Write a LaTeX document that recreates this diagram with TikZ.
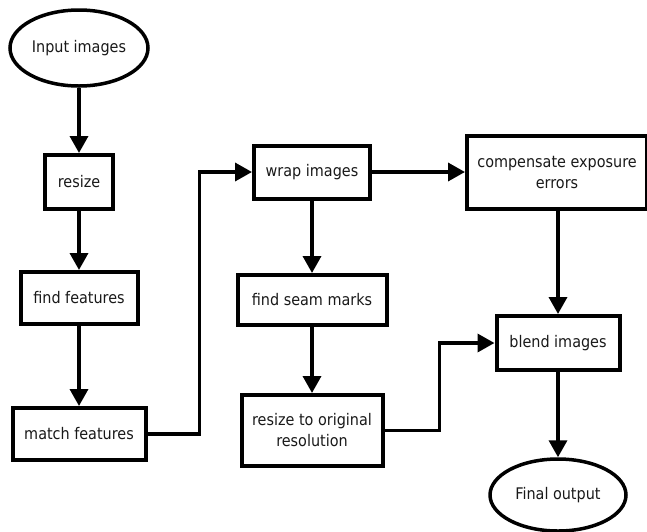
\documentclass[tikz,border=0pt]{standalone}
\usepackage{fontspec}
\setmainfont{DejaVu Sans Condensed}
\usetikzlibrary{shapes.geometric,arrows.meta}
\begin{document}
\begin{tikzpicture}[x=1pt,y=-1pt,
  every node/.style={font=\fontsize{16}{19}\selectfont, text=black!90, align=center, inner sep=0pt},
  stepbox/.style={draw, rectangle, line width=4pt},
  terminal/.style={draw, ellipse, line width=3.5pt},
  flow/.style={line width=3.5pt, -{Triangle[length=17pt,width=18pt]}}]
  \useasboundingbox (0,0) rectangle (647,531);
  \clip (0,0) rectangle (647,531);

  % left column
  \node[terminal, minimum width=138pt, minimum height=76pt] (in) at (79,48) {Input images};
  \node[stepbox, minimum width=68pt, minimum height=54pt] (resize) at (79,182) {resize};
  \node[stepbox, minimum width=117pt, minimum height=52pt] (feat) at (79,298) {find features};
  \node[stepbox, minimum width=133pt, minimum height=52pt] (match) at (79,434) {match features};

  % middle column
  \node[stepbox, minimum width=116pt, minimum height=53pt] (wrap) at (312,172) {wrap images};
  \node[stepbox, minimum width=149pt, minimum height=50pt] (seam) at (312,300) {find seam marks};
  \node[stepbox, minimum width=141pt, minimum height=71pt] (orig) at (312,430.5) {resize to original\\[2pt]resolution};

  % right column
  \node[stepbox, minimum width=180pt, minimum height=73pt] (comp) at (557,172) {compensate exposure\\[2pt]errors};
  \node[stepbox, minimum width=123pt, minimum height=54pt] (blend) at (558,343) {blend images};
  \node[terminal, minimum width=136pt, minimum height=72pt] (final) at (558,495) {Final output};

  % connectors
  \draw[flow] (in) -- (resize);
  \draw[flow] (resize) -- (feat);
  \draw[flow] (feat) -- (match);
  \draw[flow] (match.east) -- ([xshift=52pt]match.east) |- (wrap.west);
  \draw[flow] (wrap) -- (comp);
  \draw[flow] (wrap) -- (seam);
  \draw[flow] (seam) -- (orig);
  \draw[flow] (orig.east) -- ([xshift=55pt]orig.east) |- (blend.west);
  \draw[flow] (comp.south -| blend.north) -- (blend.north);
  \draw[flow] (blend) -- (final);
\end{tikzpicture}
\end{document}
